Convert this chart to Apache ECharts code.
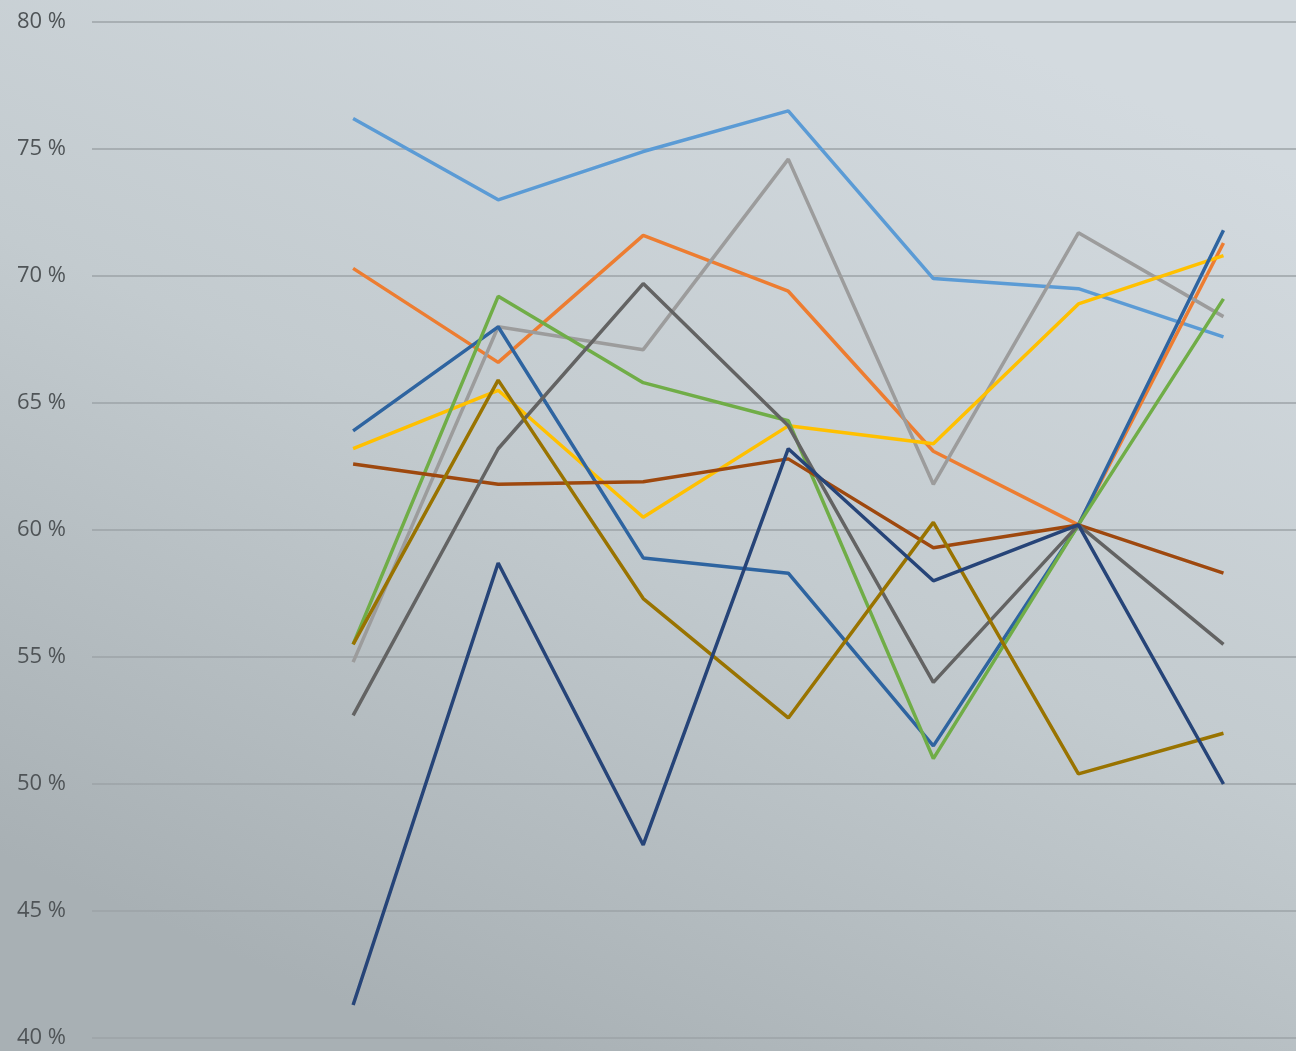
<!DOCTYPE html>
<html>
<head>
<meta charset="utf-8">
<script src="https://cdn.jsdelivr.net/npm/echarts@6/dist/echarts.min.js"></script>
<style>
  html, body { margin: 0; padding: 0; }
  #chart { width: 1296px; height: 1051px; }
</style>
</head>
<body>
<div id="chart"></div>
<script>
// Seven measurement points along the x axis (labels not shown)
const categories = [1, 2, 3, 4, 5, 6, 7];

// Y axis ticks (percent)
const yTicks = [40, 45, 50, 55, 60, 65, 70, 75, 80];

// Series values in percent
const seriesLightBlue = [76.2, 73.0, 74.9, 76.5, 69.9, 69.5, 67.6];
const seriesOrange    = [70.3, 66.6, 71.6, 69.4, 63.1, 60.2, 71.3];
const seriesGray      = [54.8, 68.0, 67.1, 74.6, 61.8, 71.7, 68.4];
const seriesGold      = [63.2, 65.5, 60.5, 64.1, 63.4, 68.9, 70.8];
const seriesBlue      = [63.9, 68.0, 58.9, 58.3, 51.5, 60.2, 71.8];
const seriesGreen     = [55.5, 69.2, 65.8, 64.3, 51.0, 60.2, 69.1];
const seriesBrown     = [62.6, 61.8, 61.9, 62.8, 59.3, 60.2, 58.3];
const seriesDarkGray  = [52.7, 63.2, 69.7, 64.1, 54.0, 60.2, 55.5];
const seriesDarkGold  = [55.5, 65.9, 57.3, 52.6, 60.3, 50.4, 52.0];
const seriesNavy      = [41.3, 58.7, 47.6, 63.2, 58.0, 60.2, 50.0];

const seriesList = [
  { name: 'A', color: '#5B9BD5', values: seriesLightBlue },
  { name: 'B', color: '#ED7D31', values: seriesOrange },
  { name: 'C', color: '#9C9C9C', values: seriesGray },
  { name: 'D', color: '#FFC000', values: seriesGold },
  { name: 'E', color: '#2E64A0', values: seriesBlue },
  { name: 'F', color: '#70AD47', values: seriesGreen },
  { name: 'G', color: '#9E480E', values: seriesBrown },
  { name: 'H', color: '#636363', values: seriesDarkGray },
  { name: 'I', color: '#997300', values: seriesDarkGold },
  { name: 'J', color: '#264478', values: seriesNavy }
];

const chart = echarts.init(document.getElementById('chart'), null, { renderer: 'canvas' });

chart.setOption({
  animation: false,
  backgroundColor: {
    type: 'linear', x: 0.7, y: 0, x2: 0.35, y2: 1,
    colorStops: [
      { offset: 0, color: '#d3dadf' },
      { offset: 0.5, color: '#c3cbcf' },
      { offset: 1, color: '#a8b0b4' }
    ]
  },
  grid: { left: 92, right: 0, top: 22, bottom: 13 },
  xAxis: {
    type: 'value',
    min: -0.8,
    max: 7.5,
    show: false
  },
  yAxis: {
    type: 'value',
    min: yTicks[0],
    max: yTicks[yTicks.length - 1],
    interval: 5,
    axisLine: { show: false },
    axisTick: { show: false },
    axisLabel: {
      formatter: v => v + ' %',
      color: '#4f5457',
      fontSize: 22,
      fontFamily: 'Open Sans, Noto Sans, sans-serif',
      margin: 26
    },
    splitLine: { lineStyle: { color: '#9ca3a7', width: 1.5 } }
  },
  series: seriesList.map(s => ({
    name: s.name,
    type: 'line',
    data: s.values.map((v, i) => [categories[i], v]),
    symbol: 'none',
    lineStyle: { color: s.color, width: 3.5 },
    itemStyle: { color: s.color }
  }))
});
</script>
</body>
</html>
